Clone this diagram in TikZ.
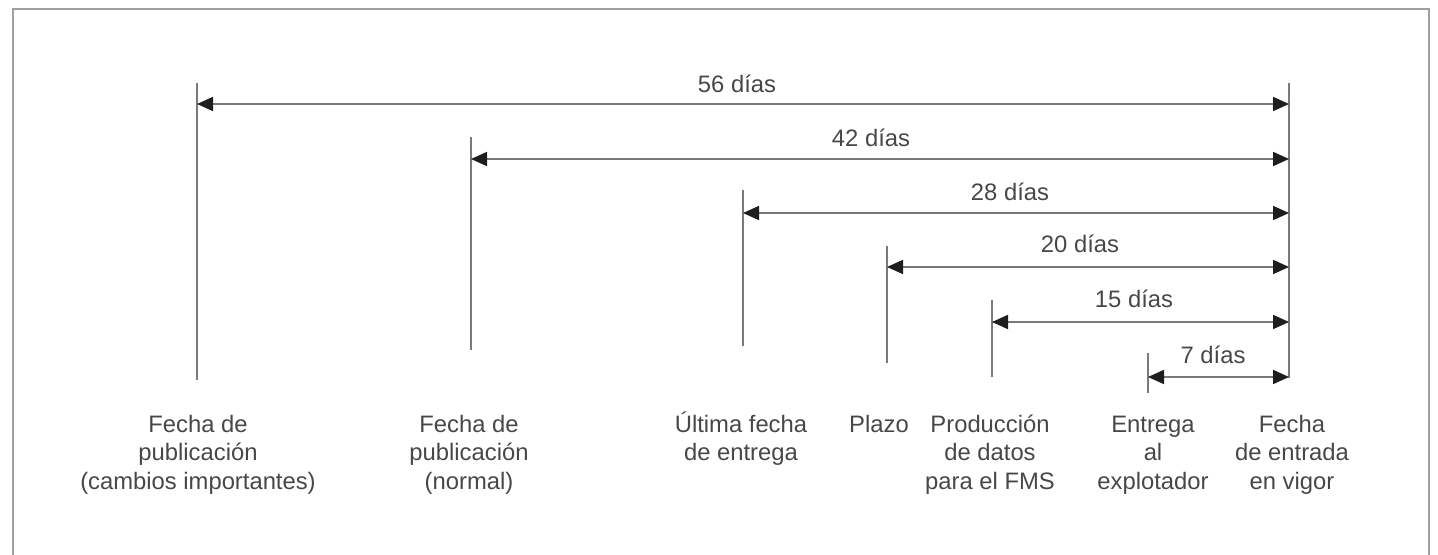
\documentclass[tikz,border=0pt]{standalone}
\usepackage{fontspec}
\setmainfont{Liberation Sans}
\usetikzlibrary{arrows.meta}
\definecolor{txtcol}{HTML}{474747}
\definecolor{linecol}{HTML}{7A7A7A}
\definecolor{tipcol}{HTML}{1E1E1E}
\definecolor{framecol}{HTML}{A0A0A0}
\newcommand{\firstlinestrut}{\rule{0pt}{11pt}}
\tikzset{
  framestyle/.style={draw=framecol, line width=1pt},
  dateline/.style={draw=linecol, line width=0.75pt},
  span/.style={draw=linecol, line width=0.9pt,
    {Triangle[length=8pt,width=7pt,color=tipcol]}-{Triangle[length=8pt,width=7pt,color=tipcol]}},
  daylabel/.style={anchor=base, inner sep=0pt, text=txtcol, font=\fontsize{11.9}{14.25}\selectfont},
  datelabel/.style={anchor=north, inner sep=0pt, align=center, text=txtcol, font=\fontsize{11.9}{14.25}\selectfont}
}
\begin{document}
\begin{tikzpicture}[x=0.5pt,y=-0.5pt]
\useasboundingbox (0,0) rectangle (1438,555);
% frame
\coordinate (fbl) at (13,560);
\coordinate (ftl) at (13,9);
\coordinate (ftr) at (1429,9);
\coordinate (fbr) at (1429,560);
\draw[framestyle] (fbl) -- (ftl) -- (ftr) -- (fbr);

% vertical date lines
\coordinate (t1) at (197,83);   \coordinate (b1) at (197,380);
\coordinate (t2) at (471,137);  \coordinate (b2) at (471,350);
\coordinate (t3) at (743,190);  \coordinate (b3) at (743,346);
\coordinate (t4) at (887,246);  \coordinate (b4) at (887,363);
\coordinate (t5) at (992,300);  \coordinate (b5) at (992,377);
\coordinate (t6) at (1148,353); \coordinate (b6) at (1148,393);
\coordinate (tR) at (1289,83);  \coordinate (bR) at (1289,378);
\foreach \i in {1,2,3,4,5,6,R} \draw[dateline] (t\i) -- (b\i);

% arrow end points
\coordinate (a1) at (197,104);  \coordinate (r1) at (1289,104);
\coordinate (a2) at (471,159);  \coordinate (r2) at (1289,159);
\coordinate (a3) at (743,213);  \coordinate (r3) at (1289,213);
\coordinate (a4) at (887,267);  \coordinate (r4) at (1289,267);
\coordinate (a5) at (992,322);  \coordinate (r5) at (1289,322);
\coordinate (a6) at (1148,377); \coordinate (r6) at (1289,377);
\foreach \i in {1,...,6} \draw[span] (a\i) -- (r\i);

% day labels
\node[daylabel] (d56) at (737,93)  {56 días};
\node[daylabel] (d42) at (871,147) {42 días};
\node[daylabel] (d28) at (1010,201) {28 días};
\node[daylabel] (d20) at (1080,253) {20 días};
\node[daylabel] (d15) at (1134,307) {15 días};
\node[daylabel] (d7)  at (1213,363) {7 días};

% date labels
\node[datelabel] (l1) at (198,410) {\firstlinestrut Fecha de\\publicación\\(cambios importantes)};
\node[datelabel] (l2) at (469,410) {\firstlinestrut Fecha de\\publicación\\(normal)};
\node[datelabel] (l3) at (741,410) {\firstlinestrut Última fecha\\de entrega};
\node[datelabel] (l4) at (879,410) {\firstlinestrut Plazo};
\node[datelabel] (l5) at (990,410) {\firstlinestrut Producción\\de datos\\para el FMS};
\node[datelabel] (l6) at (1153,410) {\firstlinestrut Entrega\\al\\explotador};
\node[datelabel] (l7) at (1292,410) {\firstlinestrut Fecha\\de entrada\\en vigor};
\end{tikzpicture}
\end{document}
